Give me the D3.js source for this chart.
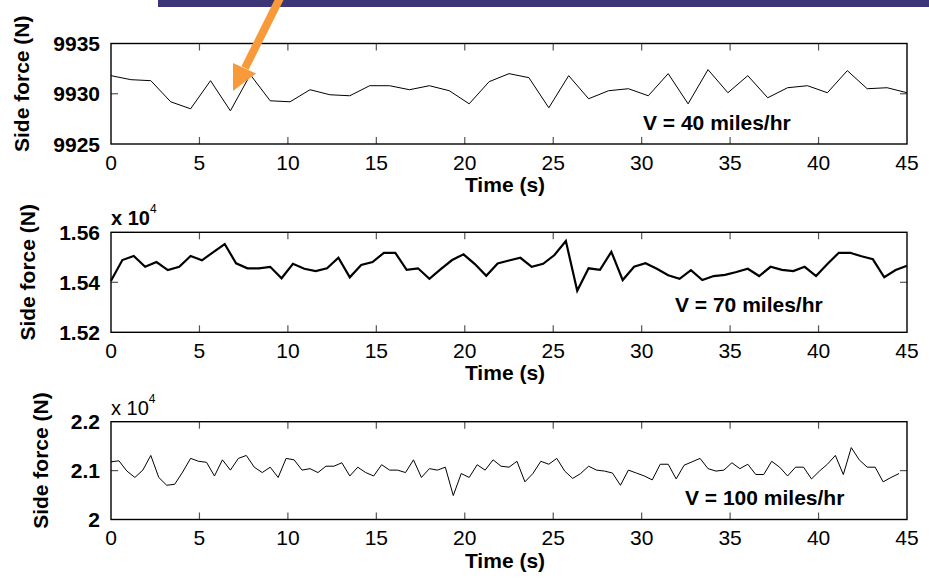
<!DOCTYPE html>
<html>
<head>
<meta charset="utf-8">
<script src="https://cdn.jsdelivr.net/npm/d3@7"></script>
<style>
  body { margin: 0; background: #fff; }
  svg { display: block; }
  text { font-family: "Liberation Sans", Arial, Helvetica, sans-serif; }
</style>
</head>
<body>
<div id="chart-area"></div>
<script>
// side force samples
var force40 = [9931.8, 9931.4, 9931.3, 9929.2, 9928.5, 9931.3, 9928.3, 9931.9, 9929.3, 9929.2,
  9930.4, 9929.9, 9929.8, 9930.8, 9930.8, 9930.4, 9930.8, 9930.3, 9929.0, 9931.2,
  9932.0, 9931.6, 9928.6, 9931.8, 9929.5, 9930.3, 9930.5, 9929.8, 9932.0, 9929.0,
  9932.4, 9930.1, 9931.8, 9929.6, 9930.6, 9930.8, 9930.1, 9932.3, 9930.5, 9930.6, 9930.1];

var force70 = [1.5406, 1.5489, 1.5505, 1.5462, 1.5481, 1.5449, 1.5462, 1.5505, 1.5488, 1.5521,
  1.5553, 1.5476, 1.5456, 1.5456, 1.5462, 1.5416, 1.5474, 1.5454, 1.5445, 1.5456,
  1.5498, 1.5420, 1.5469, 1.5481, 1.5518, 1.5518, 1.5450, 1.5456, 1.5414, 1.5453,
  1.5489, 1.5512, 1.5473, 1.5426, 1.5475, 1.5487, 1.5498, 1.5462, 1.5474, 1.5509,
  1.5565, 1.5366, 1.5456, 1.5450, 1.5522, 1.5409, 1.5462, 1.5476, 1.5454, 1.5428,
  1.5414, 1.5449, 1.5409, 1.5425, 1.5430, 1.5441, 1.5454, 1.5425, 1.5462, 1.5450,
  1.5445, 1.5462, 1.5425, 1.5473, 1.5518, 1.5518, 1.5504, 1.5492, 1.5420, 1.5449, 1.5466];

var force100 = [2.118, 2.120, 2.099, 2.086, 2.101, 2.131, 2.086, 2.070, 2.072, 2.097,
  2.125, 2.119, 2.117, 2.089, 2.122, 2.101, 2.125, 2.131, 2.107, 2.096,
  2.107, 2.086, 2.125, 2.122, 2.101, 2.104, 2.096, 2.109, 2.109, 2.116,
  2.089, 2.107, 2.096, 2.089, 2.112, 2.101, 2.101, 2.096, 2.122, 2.086,
  2.104, 2.101, 2.107, 2.049, 2.094, 2.086, 2.112, 2.101, 2.122, 2.109,
  2.107, 2.119, 2.077, 2.094, 2.119, 2.113, 2.125, 2.099, 2.084, 2.094,
  2.109, 2.101, 2.099, 2.095, 2.070, 2.101, 2.095, 2.089, 2.081, 2.113,
  2.113, 2.083, 2.111, 2.118, 2.125, 2.104, 2.099, 2.101, 2.116, 2.104,
  2.113, 2.092, 2.092, 2.119, 2.107, 2.089, 2.107, 2.107, 2.083, 2.099,
  2.113, 2.131, 2.092, 2.147, 2.122, 2.107, 2.107, 2.077, 2.086, 2.094];

// sample spacing (s) of each record
var sampleDt = [1.125, 45 / 70, 0.45];

var xTicks = [0, 5, 10, 15, 20, 25, 30, 35, 40, 45];
var yTicks40 = [9925, 9930, 9935];
var yTicks70 = [1.52, 1.54, 1.56];
var yTicks100 = [2, 2.1, 2.2];
var yTickLabels70 = ["1.52", "1.54", "1.56"];
var yTickLabels100 = ["2", "2.1", "2.2"];
var speedLabels = ["V = 40 miles/hr", "V = 70 miles/hr", "V = 100 miles/hr"];

var W = 929, H = 581;
var svg = d3.select("#chart-area").append("svg")
    .attr("width", W).attr("height", H);

// slide decoration: purple bar and orange arrow
svg.append("rect")
    .attr("x", 158).attr("y", 0).attr("width", W - 158).attr("height", 7)
    .attr("fill", "#3c3679");

var x = d3.scaleLinear().domain([0, 45]).range([111, 907]);

var panels = [
  {values: force40, dt: sampleDt[0], ticks: yTicks40, labels: yTicks40.map(String),
   top: 43.5, bottom: 144, lw: 1, yLabX: 29, note: speedLabels[0], noteX: 643, noteY: 130, exp: null},
  {values: force70, dt: sampleDt[1], ticks: yTicks70, labels: yTickLabels70,
   top: 232.3, bottom: 332.3, lw: 2.2, yLabX: 35, note: speedLabels[1], noteX: 675, noteY: 312, exp: "bold"},
  {values: force100, dt: sampleDt[2], ticks: yTicks100, labels: yTickLabels100,
   top: 421.7, bottom: 519.5, lw: 1, yLabX: 48, note: speedLabels[2], noteX: 685, noteY: 505, exp: "normal"}
];

panels.forEach(function(p) {
  var y = d3.scaleLinear()
      .domain([p.ticks[0], p.ticks[2]])
      .range([p.bottom, p.top]);
  var g = svg.append("g");
  var x0 = x.range()[0], x1 = x.range()[1];

  // data line
  var line = d3.line()
      .x(function(d, i) { return x(i * p.dt); })
      .y(function(d) { return y(d); });
  g.append("path")
      .datum(p.values)
      .attr("d", line)
      .attr("fill", "none")
      .attr("stroke", "#000")
      .attr("stroke-width", p.lw)
      .attr("stroke-linejoin", "miter");

  // inward ticks on all four sides
  var inner = xTicks.slice(1, -1);
  g.selectAll(".tb").data(inner).enter().append("line")
      .attr("x1", function(d) { return x(d); }).attr("x2", function(d) { return x(d); })
      .attr("y1", p.top).attr("y2", p.top + 7)
      .attr("stroke", "#555").attr("stroke-width", 1.2);
  g.selectAll(".bt").data(inner).enter().append("line")
      .attr("x1", function(d) { return x(d); }).attr("x2", function(d) { return x(d); })
      .attr("y1", p.bottom).attr("y2", p.bottom - 7)
      .attr("stroke", "#555").attr("stroke-width", 1.2);
  var mid = [p.ticks[1]];
  g.selectAll(".lt").data(mid).enter().append("line")
      .attr("x1", x0).attr("x2", x0 + 7)
      .attr("y1", function(d) { return y(d); }).attr("y2", function(d) { return y(d); })
      .attr("stroke", "#555").attr("stroke-width", 1.2);
  g.selectAll(".rt").data(mid).enter().append("line")
      .attr("x1", x1).attr("x2", x1 - 7)
      .attr("y1", function(d) { return y(d); }).attr("y2", function(d) { return y(d); })
      .attr("stroke", "#555").attr("stroke-width", 1.2);

  // box
  g.append("rect")
      .attr("x", x0).attr("y", p.top)
      .attr("width", x1 - x0).attr("height", p.bottom - p.top)
      .attr("fill", "none").attr("stroke", "#000").attr("stroke-width", 1.4);

  // x tick labels
  g.selectAll(".xl").data(xTicks).enter().append("text")
      .attr("x", function(d) { return x(d); })
      .attr("y", p.bottom + 25.5)
      .attr("text-anchor", "middle")
      .attr("font-size", "21px")
      .text(function(d) { return d; });

  // y tick labels
  g.selectAll(".yl").data(p.ticks).enter().append("text")
      .attr("x", 100)
      .attr("y", function(d) { return y(d); })
      .attr("dy", "0.36em")
      .attr("text-anchor", "end")
      .attr("font-size", "21px")
      .attr("font-weight", "bold")
      .text(function(d, i) { return p.labels[i]; });

  g.append("text")
      .attr("x", (x0 + x1) / 2 - 4)
      .attr("y", p.bottom + 48)
      .attr("text-anchor", "middle")
      .attr("font-size", "21px")
      .attr("font-weight", "bold")
      .text("Time (s)");

  g.append("text")
      .attr("transform", "translate(" + p.yLabX + "," + ((p.top + p.bottom) / 2 - 10) + ") rotate(-90)")
      .attr("text-anchor", "middle")
      .attr("font-size", "21px")
      .attr("font-weight", "bold")
      .text("Side force (N)");

  g.append("text")
      .attr("x", p.noteX).attr("y", p.noteY)
      .attr("font-size", "21px")
      .attr("font-weight", "bold")
      .text(p.note);

  if (p.exp) {
    var ex = g.append("text")
        .attr("x", x0).attr("y", p.top - 7)
        .attr("font-size", "20px")
        .attr("font-weight", p.exp);
    ex.append("tspan").text("x 10");
    ex.append("tspan").attr("dy", -12).attr("font-size", "12px").attr("font-weight", "normal").text("4");
  }
});

// orange arrow pointing at the dip near t = 7 s
svg.append("line")
    .attr("x1", 280).attr("y1", -2).attr("x2", 245).attr("y2", 68)
    .attr("stroke", "#f89a3a").attr("stroke-width", 8);
svg.append("polygon")
    .attr("points", "233,63 256,73.5 233,91")
    .attr("fill", "#f89a3a");
</script>
</body>
</html>
